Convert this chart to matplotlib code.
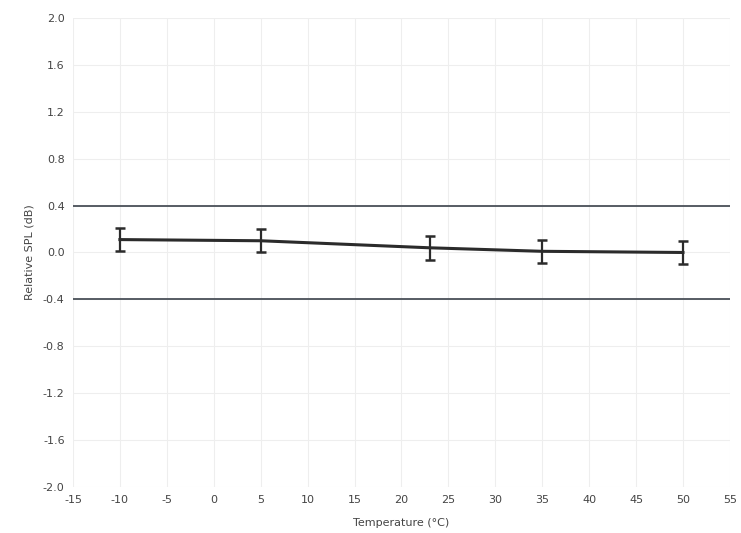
import matplotlib
matplotlib.use("Agg")
import matplotlib.pyplot as plt
import numpy as np

plt.rcParams['axes.unicode_minus'] = False

temps = [-10, 5, 23, 35, 50]
spl = [0.11, 0.10, 0.04, 0.01, 0.0]
spl_err = [0.10, 0.10, 0.10, 0.10, 0.10]
limits = [0.4, -0.4]

xticks = np.arange(-15, 56, 5)
yticks = np.round(np.arange(-2.0, 2.01, 0.4), 1)

fig = plt.figure(figsize=(7.41, 5.33), dpi=100)
ax = fig.add_axes([0.0985, 0.0863, 0.8865, 0.88])

for lim in limits:
    ax.axhline(lim, color='#4a5058', linewidth=1.3, zorder=2)

ax.errorbar(temps, spl, yerr=spl_err, color='#2b2b2b', linewidth=2.2,
            elinewidth=1.6, capsize=3.5, capthick=1.8, zorder=3)

ax.set_xlim(-15, 55)
ax.set_ylim(-2.0, 2.0)
ax.set_xticks(xticks)
ax.set_yticks(yticks)
ax.set_yticklabels([f"{v:.1f}" for v in yticks + 0.0])
ax.grid(True, color='#eeeeee', linewidth=0.8)
ax.set_axisbelow(True)
for s in ax.spines.values():
    s.set_visible(False)
ax.tick_params(length=0, labelsize=8, colors='#444444', pad=6)
ax.set_xlabel('Temperature (°C)', fontsize=8, color='#444444', labelpad=9)
ax.set_ylabel('Relative SPL (dB)', fontsize=8, color='#444444', labelpad=6)

fig.savefig('out.png', dpi=100)
